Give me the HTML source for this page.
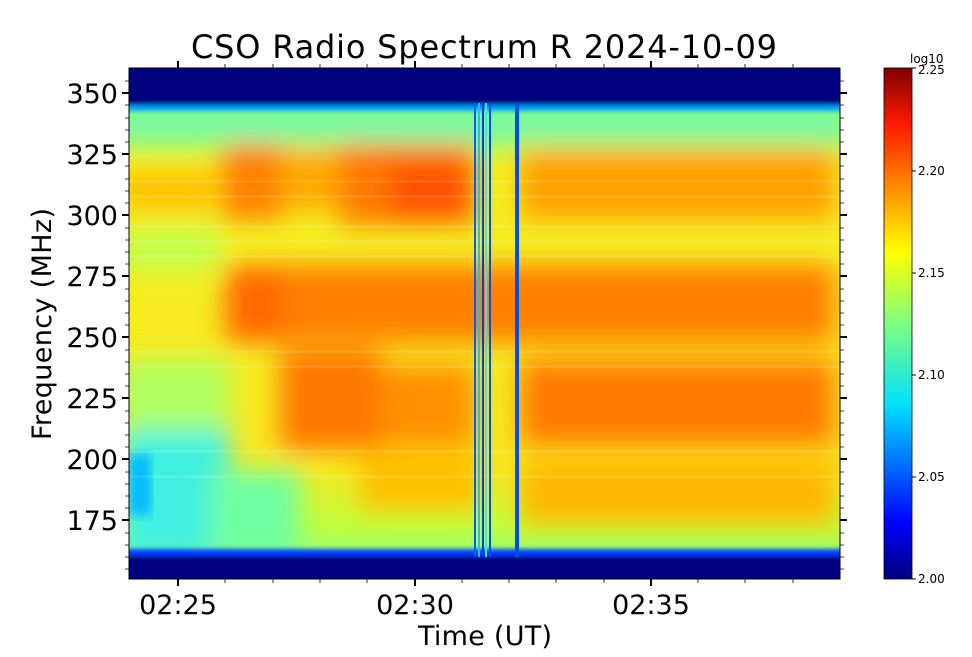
<!DOCTYPE html>
<html><head><style>
body{margin:0;background:#fff;width:972px;height:652px;overflow:hidden}
</style></head><body>
<svg width="972" height="652" xmlns="http://www.w3.org/2000/svg" font-family="DejaVu Sans, sans-serif">
<defs>
<filter id="b" x="-20%" y="-20%" width="140%" height="140%"><feGaussianBlur stdDeviation="13"/></filter>
<filter id="b2"><feGaussianBlur stdDeviation="2"/></filter>
<filter id="b3"><feGaussianBlur stdDeviation="6"/></filter>
<linearGradient id="cb" x1="0" y1="1" x2="0" y2="0">
<stop offset="0" stop-color="#00007f"/><stop offset="0.11" stop-color="#0000ff"/><stop offset="0.34" stop-color="#00e0ff"/><stop offset="0.5" stop-color="#7fff7f"/><stop offset="0.64" stop-color="#ffff00"/><stop offset="0.89" stop-color="#ff1a00"/><stop offset="1" stop-color="#7f0000"/></linearGradient>
<linearGradient id="bg" x1="0" y1="0" x2="0" y2="1">
<stop offset="0" stop-color="#40f0c0"/><stop offset="0.1" stop-color="#a0ff60"/><stop offset="0.2" stop-color="#f4f020"/><stop offset="0.78" stop-color="#f8e820"/><stop offset="0.9" stop-color="#c0ff40"/><stop offset="1" stop-color="#70ffa0"/></linearGradient>
<clipPath id="c"><rect x="129" y="68" width="711" height="511"/></clipPath>
</defs>
<g clip-path="url(#c)">
<rect x="129" y="68" width="711" height="511" fill="url(#bg)"/>
<g filter="url(#b)">
<rect x="110" y="110" width="740" height="30" fill="#70f8b0"/>
<rect x="120" y="230" width="100" height="40" fill="#c0ff50"/>
<rect x="120" y="430" width="110" height="130" fill="#40f0e0"/>
<rect x="210" y="470" width="90" height="90" fill="#70ffa0"/>
<rect x="120" y="360" width="110" height="70" fill="#b0ff60"/>
<rect x="120" y="170" width="95" height="40" fill="#ffc000"/>
<rect x="222" y="145" width="60" height="75" fill="#ff8000"/>
<rect x="280" y="150" width="70" height="60" fill="#ffa800"/>
<rect x="340" y="145" width="135" height="80" fill="#ff7800"/>
<rect x="390" y="165" width="80" height="50" fill="#ff5000"/>
<rect x="520" y="150" width="315" height="70" fill="#ffa000"/>
<rect x="225" y="265" width="610" height="78" fill="#ff8000"/>
<rect x="228" y="272" width="55" height="65" fill="#ff6800"/>
<rect x="280" y="350" width="100" height="100" fill="#ff7800"/>
<rect x="380" y="365" width="95" height="80" fill="#ff9000"/>
<rect x="520" y="360" width="315" height="85" fill="#ff7c00"/>
<rect x="520" y="460" width="315" height="65" fill="#ffb800"/>
<rect x="360" y="450" width="120" height="60" fill="#ffc000"/>
</g>
<rect x="129" y="455" width="22" height="60" fill="#00b8ff" filter="url(#b3)"/>
<g filter="url(#b2)">
<rect x="120" y="55" width="730" height="50" fill="#00007f"/>
<rect x="120" y="105" width="730" height="6" fill="#00a0ff"/>
<rect x="120" y="549" width="730" height="7" fill="#0040ff"/>
<rect x="120" y="556" width="730" height="35" fill="#00007f"/>
</g>
<g fill="#ffffff" opacity="0.1">
<rect x="129" y="180" width="711" height="3"/><rect x="129" y="195" width="711" height="3"/><rect x="129" y="225" width="711" height="3"/><rect x="129" y="240" width="711" height="3"/><rect x="129" y="255" width="711" height="3"/><rect x="129" y="350" width="711" height="3"/><rect x="129" y="365" width="711" height="3"/><rect x="129" y="450" width="711" height="3"/><rect x="129" y="475" width="711" height="3"/>
</g>
<rect x="474" y="103" width="2" height="454" fill="#0060ff"/>
<rect x="478" y="103" width="2" height="454" fill="#20c0ff"/>
<rect x="482" y="103" width="2" height="454" fill="#0040e0"/>
<rect x="485" y="103" width="2" height="454" fill="#40e0ff"/>
<rect x="489" y="103" width="2" height="454" fill="#0050f0"/>
<rect x="515" y="103" width="4" height="454" fill="#0050e0"/>
</g>
<rect x="129" y="68" width="711" height="511" fill="none" stroke="#000" stroke-width="1"/>
<g stroke="#000">
<g stroke-width="2"><path d="M122 93h7M122 154h7M122 215h7M122 276h7M122 337h7M122 398h7M122 459h7M122 520h7"/>
<path d="M840 93h7M840 154h7M840 215h7M840 276h7M840 337h7M840 398h7M840 459h7M840 520h7"/>
<path d="M178 579v7M415 579v7M651 579v7M178 61v7M415 61v7M651 61v7"/></g>
</g>
<g stroke="#000" stroke-width="0.8">
<path d="M225 579v4M273 579v4M320 579v4M367 579v4M462 579v4M509 579v4M556 579v4M604 579v4M698 579v4M745 579v4M793 579v4M225 68v-4M273 68v-4M320 68v-4M367 68v-4M462 68v-4M509 68v-4M556 68v-4M604 68v-4M698 68v-4M745 68v-4M793 68v-4"/>
<path d="M125 81h4M125 105h4M125 118h4M125 130h4M125 142h4M125 166h4M125 179h4M125 191h4M125 203h4M125 228h4M125 240h4M125 252h4M125 264h4M125 289h4M125 301h4M125 313h4M125 325h4M125 350h4M125 362h4M125 374h4M125 386h4M125 411h4M125 423h4M125 435h4M125 447h4M125 472h4M125 484h4M125 496h4M125 508h4M125 533h4M125 545h4M125 557h4M125 569h4"/>
<path d="M840 81h4M840 105h4M840 118h4M840 130h4M840 142h4M840 166h4M840 179h4M840 191h4M840 203h4M840 228h4M840 240h4M840 252h4M840 264h4M840 289h4M840 301h4M840 313h4M840 325h4M840 350h4M840 362h4M840 374h4M840 386h4M840 411h4M840 423h4M840 435h4M840 447h4M840 472h4M840 484h4M840 496h4M840 508h4M840 533h4M840 545h4M840 557h4M840 569h4"/>
</g>
<g font-size="27" text-anchor="end" fill="#000">
<text x="118" y="103">350</text><text x="118" y="164">325</text><text x="118" y="225">300</text><text x="118" y="286">275</text><text x="118" y="347">250</text><text x="118" y="408">225</text><text x="118" y="469">200</text><text x="118" y="530">175</text>
</g>
<g font-size="27" text-anchor="middle">
<text x="178" y="614">02:25</text><text x="415" y="614">02:30</text><text x="651" y="614">02:35</text>
<text x="485" y="645" textLength="134">Time (UT)</text>
<text x="484" y="58" font-size="32" textLength="586">CSO Radio Spectrum R 2024-10-09</text>
</g>
<text transform="translate(51,324) rotate(-90)" font-size="27" text-anchor="middle" textLength="232">Frequency (MHz)</text>
<rect x="884" y="68" width="28" height="511" fill="url(#cb)" stroke="#000" stroke-width="0.8"/>
<g stroke="#000"><path d="M912 68h4M912 171h4M912 273h4M912 375h4M912 477h4M912 579h4"/></g>
<g font-size="12"><text x="918" y="74">2.25</text><text x="918" y="175">2.20</text><text x="918" y="277">2.15</text><text x="918" y="379">2.10</text><text x="918" y="481">2.05</text><text x="918" y="583">2.00</text>
<text x="910" y="63">log10</text></g>
</svg>
</body></html>
